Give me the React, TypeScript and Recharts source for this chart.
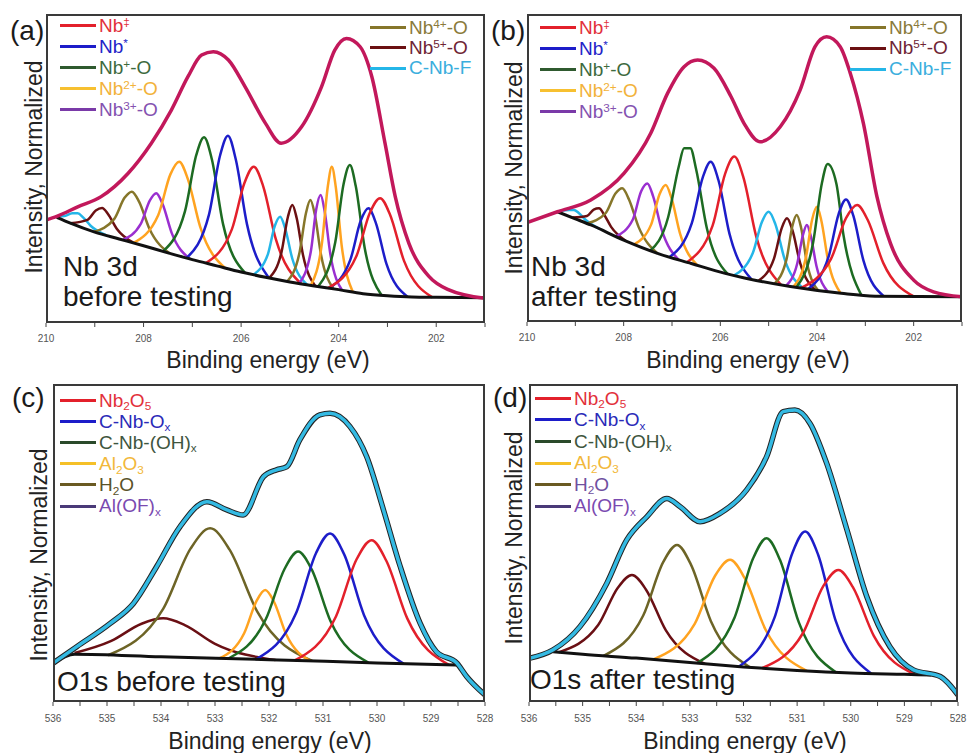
import React from "react";
import { LineChart, Line, XAxis, YAxis } from "recharts";

type Pt = [number, number];

// x = binding energy (eV), y = normalized intensity (0-100 of the frame height)

// ---------- (a) Nb 3d before testing ----------
const aEnvelope: Pt[] = [[210, 33.3], [209.78, 34.5], [209.35, 37.6], [208.87, 40.9], [208.32, 48.4], [207.84, 58.2], [207.43, 68.9], [207.09, 79.7], [206.81, 86.7], [206.57, 87.8], [206.26, 85.1], [205.92, 76.5], [205.5, 64.6], [205.18, 58.2], [204.76, 63.5], [204.35, 76.5], [204.08, 88.3], [203.84, 92.1], [203.56, 89.4], [203.32, 79.7], [203.05, 58.2], [202.84, 40.9], [202.56, 25.8], [202.15, 15.1], [201.74, 10.7], [201, 8.0]];
const aBackground: Pt[] = [[209.78, 34.2], [209.5, 32.3], [209, 29.4], [208.5, 27.2], [208, 25], [207.5, 22.7], [207, 20.5], [206.5, 18.5], [206, 16.5], [205.5, 14.8], [205, 13.3], [204.5, 12], [204, 10.8], [203.5, 9.5], [203, 8.8], [202.5, 8.4], [202, 8.3], [201, 8.2]];
const aCNbF1: Pt[] = [[209.75, 34.5], [209.62, 34.6], [209.46, 35.5], [209.35, 35.5], [209.24, 34.2], [209.08, 31.4], [208.77, 28.4]];
const aNb5p1: Pt[] = [[209.5, 32.3], [209.15, 33.4], [208.98, 36.4], [208.85, 37.2], [208.73, 35.3], [208.55, 30.5], [208.2, 25.9]];
const aNb4p1: Pt[] = [[209.02, 29.5], [208.6, 33.7], [208.39, 40.5], [208.24, 42.5], [208.09, 39.2], [207.88, 30.5], [207.46, 22.5]];
const aNb3p1: Pt[] = [[208.43, 26.9], [208.06, 32.0], [207.87, 39.7], [207.74, 42.0], [207.61, 38.5], [207.42, 29.0], [207.05, 20.7]];
const aNb2p1: Pt[] = [[208.21, 25.9], [207.7, 34.9], [207.45, 48.1], [207.27, 52.2], [207.09, 46.5], [206.84, 31.2], [206.33, 17.8]];
const aNb1p1: Pt[] = [[207.6, 23.2], [207.15, 36.2], [206.92, 54.3], [206.76, 60.1], [206.6, 53.0], [206.37, 32.0], [205.92, 16.2]];
const aNbStar1: Pt[] = [[207.12, 21.0], [206.66, 35.0], [206.43, 54.3], [206.27, 60.6], [206.11, 53.0], [205.88, 32.0], [205.43, 14.6]];
const aNbDd1: Pt[] = [[206.72, 19.4], [206.19, 30.3], [205.93, 45.4], [205.74, 50.6], [205.55, 44.4], [205.29, 27.2], [204.77, 12.7]];
const aCNbF2: Pt[] = [[205.75, 15.6], [205.45, 22.3], [205.31, 31.4], [205.2, 34.4], [205.1, 30.8], [204.95, 20.8], [204.65, 12.4]];
const aNb5p2: Pt[] = [[205.42, 14.6], [205.17, 23.1], [205.04, 34.4], [204.95, 38.2], [204.86, 33.9], [204.73, 21.9], [204.48, 12.0]];
const aNb4p2: Pt[] = [[205.05, 13.5], [204.8, 23.0], [204.67, 35.6], [204.58, 39.8], [204.49, 35.2], [204.36, 21.9], [204.11, 11.1]];
const aNb3p2: Pt[] = [[204.81, 12.8], [204.57, 23.2], [204.46, 36.8], [204.37, 41.4], [204.29, 36.4], [204.17, 22.2], [203.93, 10.6]];
const aNb2p2: Pt[] = [[204.57, 12.2], [204.34, 26.2], [204.22, 44.5], [204.14, 50.6], [204.06, 44.1], [203.94, 25.3], [203.71, 10.0]];
const aNb1p2: Pt[] = [[204.42, 11.8], [204.07, 26.1], [203.9, 44.9], [203.77, 51.1], [203.65, 44.3], [203.47, 24.6], [203.12, 9.0]];
const aNbStar2: Pt[] = [[204.19, 11.3], [203.76, 20.5], [203.55, 33.0], [203.39, 37.1], [203.24, 32.5], [203.02, 19.1], [202.59, 8.5]];
const aNbDd2: Pt[] = [[204.22, 11.3], [203.64, 21.5], [203.36, 35.7], [203.15, 40.4], [202.95, 35.2], [202.66, 20.1], [202.08, 8.3]];

// ---------- (b) Nb 3d after testing ----------
const bEnvelope: Pt[] = [[210, 32.3], [209.37, 35.8], [208.68, 39.6], [207.99, 48.3], [207.44, 61.3], [207.09, 74.3], [206.75, 82.9], [206.47, 85.1], [206.13, 82.4], [205.78, 73.2], [205.51, 64.5], [205.18, 58.5], [204.76, 63.4], [204.35, 75.3], [204.04, 89.4], [203.8, 92.6], [203.52, 89.4], [203.31, 80.7], [203.04, 64.5], [202.76, 40.7], [202.48, 25.5], [202, 13.6], [201.59, 9.8], [201, 8.2]];
const bBackground: Pt[] = [[209.37, 35.8], [209, 33.5], [208.68, 31.5], [208, 26.6], [207.3, 22.3], [206.6, 19], [205.9, 15.8], [205.5, 14.3], [204.55, 11.5], [203.5, 9.3], [202.8, 8.4], [201, 8.2]];
const bCNbF1: Pt[] = [[209.37, 35.8], [209.27, 36.2], [209.13, 36.4], [209.03, 36.4], [208.93, 35.4], [208.79, 33.2], [208.51, 30.3]];
const bNb5p1: Pt[] = [[209.06, 33.9], [208.76, 34.4], [208.62, 36.5], [208.51, 36.9], [208.41, 35.0], [208.26, 30.9], [207.96, 26.4]];
const bNb4p1: Pt[] = [[208.76, 32.0], [208.37, 35.4], [208.17, 41.7], [208.03, 43.4], [207.89, 39.8], [207.69, 30.8], [207.3, 22.3]];
const bNb3p1: Pt[] = [[208.16, 27.8], [207.81, 33.3], [207.64, 42.4], [207.51, 45.0], [207.39, 40.8], [207.21, 29.8], [206.86, 20.2]];
const bNb2p1: Pt[] = [[207.78, 25.2], [207.43, 31.7], [207.26, 41.4], [207.13, 44.5], [207.01, 40.2], [206.83, 28.5], [206.48, 18.5]];
const bNb1p1: Pt[] = [[207.46, 23.0], [207.08, 34.0], [206.86, 50.5], [206.75, 56.4], [206.62, 56.4], [206.5, 49.5], [206.28, 30.5], [205.85, 15.6]];
const bNbStar1: Pt[] = [[207.05, 21.1], [206.59, 32.1], [206.36, 47.1], [206.2, 52.0], [206.04, 46.1], [205.81, 28.6], [205.36, 13.9]];
const bNbDd1: Pt[] = [[206.69, 19.4], [206.16, 31.3], [205.9, 48.2], [205.71, 53.7], [205.52, 46.8], [205.26, 27.9], [204.74, 12.0]];
const bCNbF2: Pt[] = [[205.72, 15.1], [205.33, 22.3], [205.14, 32.5], [205.0, 35.8], [204.86, 31.7], [204.67, 20.4], [204.29, 11.0]];
const bNb5p2: Pt[] = [[205.21, 13.4], [204.89, 20.6], [204.73, 30.5], [204.62, 33.7], [204.51, 29.9], [204.35, 19.2], [204.04, 10.4]];
const bNb4p2: Pt[] = [[204.88, 12.4], [204.63, 20.4], [204.51, 31.1], [204.42, 34.7], [204.33, 30.7], [204.21, 19.3], [203.97, 10.1]];
const bNb3p2: Pt[] = [[204.64, 11.7], [204.41, 18.9], [204.29, 28.3], [204.21, 31.5], [204.13, 28.0], [204.01, 18.1], [203.78, 9.9]];
const bNb2p2: Pt[] = [[204.49, 11.4], [204.23, 20.9], [204.1, 33.3], [204.0, 37.4], [203.91, 32.9], [203.77, 19.9], [203.51, 9.3]];
const bNb1p2: Pt[] = [[204.43, 11.2], [204.08, 25.8], [203.9, 45.0], [203.78, 51.3], [203.6, 45.0], [203.45, 28.0], [203.08, 8.7]];
const bNbStar2: Pt[] = [[204.18, 10.7], [203.76, 21.2], [203.55, 35.2], [203.4, 39.8], [203.25, 34.6], [203.04, 20.0], [202.62, 8.4]];
const bNbDd2: Pt[] = [[204.34, 11.0], [203.71, 20.5], [203.4, 33.7], [203.17, 38.0], [202.95, 33.1], [202.63, 19.2], [202.0, 8.3]];

// ---------- (c) O1s before testing ----------
const cEnvelope: Pt[] = [[536, 12.2], [535.56, 17.4], [534.94, 24.7], [534.51, 31.0], [534.08, 42.6], [533.65, 55.1], [533.15, 63.0], [532.78, 60.4], [532.48, 58.8], [532.1, 70.9], [531.86, 73.0], [531.67, 74.0], [531.43, 82.4], [531.06, 90.3], [530.87, 90.8], [530.5, 86.6], [530.19, 77.1], [529.88, 60.4], [529.57, 42.6], [529.2, 24.7], [528.9, 15.8], [528.52, 12.2], [528.34, 8.0], [528, 2.2]];
const cBackground: Pt[] = [[536, 12.2], [535.6, 15.0], [534, 14.2], [532, 13.3], [530, 12.3], [528.5, 11.6]];
const cAlOF: Pt[] = [[535.6, 15.4], [534.92, 19.2], [534.36, 24.6], [533.96, 26.3], [533.56, 24.2], [533.0, 18.3], [531.88, 13.2]];
const cH2O: Pt[] = [[534.98, 14.7], [533.96, 29.3], [533.45, 48.3], [533.09, 54.6], [532.73, 47.9], [532.22, 28.5], [531.2, 12.9]];
const cAl2O3: Pt[] = [[532.92, 13.7], [532.46, 21.6], [532.23, 31.8], [532.07, 35.2], [531.91, 31.6], [531.68, 21.2], [531.23, 12.9]];
const cNbOH: Pt[] = [[532.76, 13.6], [532.06, 26.0], [531.71, 41.9], [531.46, 47.3], [531.21, 41.7], [530.86, 25.4], [530.16, 12.4]];
const cNbOx: Pt[] = [[532.24, 13.4], [531.5, 27.9], [531.13, 46.8], [530.87, 53.0], [530.61, 46.5], [530.24, 27.3], [529.51, 12.1]];
const cNb2O5: Pt[] = [[531.53, 13.0], [530.76, 26.9], [530.38, 44.8], [530.1, 50.9], [529.83, 44.5], [529.44, 26.3], [528.67, 11.7]];

// ---------- (d) O1s after testing ----------
const dEnvelope: Pt[] = [[536, 13.7], [535.55, 16.4], [535.05, 23.7], [534.55, 37.3], [534.18, 50.9], [533.8, 58.3], [533.43, 64.0], [533.18, 61.4], [532.81, 56.7], [532.44, 59.3], [531.94, 66.7], [531.57, 77.1], [531.26, 91.3], [531.04, 91.8], [530.76, 87.6], [530.45, 75.1], [530.07, 54.1], [529.7, 33.1], [529.27, 17.4], [528.83, 10.1], [528.33, 8.0], [528, 2.2]];
const dBackground: Pt[] = [[535.55, 15.8], [535, 15.0], [534, 13.8], [533, 12.4], [532, 11.0], [531, 9.9], [530, 9.1], [529, 8.7], [528.5, 8.5]];
const dAlOF: Pt[] = [[535.45, 15.6], [534.71, 24.2], [534.34, 36.0], [534.08, 39.9], [533.82, 35.4], [533.45, 22.6], [532.72, 12.0]];
const dH2O: Pt[] = [[534.61, 14.5], [533.87, 27.2], [533.5, 43.9], [533.24, 49.4], [532.98, 43.2], [532.61, 25.5], [531.88, 10.9]];
const dAl2O3: Pt[] = [[533.68, 13.4], [532.91, 24.6], [532.53, 39.7], [532.25, 44.7], [531.98, 39.0], [531.59, 22.8], [530.82, 9.8]];
const dNbOH: Pt[] = [[532.87, 12.2], [532.17, 26.4], [531.82, 45.2], [531.57, 51.5], [531.32, 44.7], [530.97, 25.1], [530.27, 9.3]];
const dNbOx: Pt[] = [[532.09, 11.1], [531.42, 26.6], [531.09, 46.8], [530.85, 53.6], [530.61, 46.4], [530.28, 25.5], [529.62, 9.0]];
const dNb2O5: Pt[] = [[531.66, 10.6], [530.89, 21.7], [530.51, 36.5], [530.23, 41.5], [529.96, 36.1], [529.57, 20.8], [528.8, 8.6]];

// axis ticks
const nbTicks = [210, 209, 208, 207, 206, 205, 204, 203, 202, 201];
const o1sTicks = [536, 535.5, 535, 534.5, 534, 533.5, 533, 532.5, 532, 531.5, 531, 530.5, 530, 529.5, 529, 528.5, 528];

// colours
const RED = "#e3202b";
const BLUE = "#1d1dc9";
const GREEN = "#1d6b22";
const ORANGE = "#ffa320";
const PURPLE = "#9a2fd0";
const OLIVE = "#86762a";
const MAROON = "#6b1012";
const CYAN = "#24b6e8";
const ENV = "#c2185b";
const BG = "#111111";

type Series = { data: Pt[]; color: string; width: number };
const pk = (data: Pt[], color: string): Series => ({ data, color, width: 2.5 });

const seriesA: Series[] = [
  pk(aCNbF1, CYAN), pk(aNb5p1, MAROON), pk(aNb4p1, OLIVE), pk(aNb3p1, PURPLE),
  pk(aNb2p1, ORANGE), pk(aNb1p1, GREEN), pk(aNbStar1, BLUE), pk(aNbDd1, RED),
  pk(aCNbF2, CYAN), pk(aNb5p2, MAROON), pk(aNb4p2, OLIVE), pk(aNb3p2, PURPLE),
  pk(aNb2p2, ORANGE), pk(aNb1p2, GREEN), pk(aNbStar2, BLUE), pk(aNbDd2, RED),
  { data: aBackground, color: BG, width: 3 },
  { data: aEnvelope, color: ENV, width: 3.5 },
];
const seriesB: Series[] = [
  pk(bCNbF1, CYAN), pk(bNb5p1, MAROON), pk(bNb4p1, OLIVE), pk(bNb3p1, PURPLE),
  pk(bNb2p1, ORANGE), pk(bNb1p1, GREEN), pk(bNbStar1, BLUE), pk(bNbDd1, RED),
  pk(bCNbF2, CYAN), pk(bNb5p2, MAROON), pk(bNb4p2, OLIVE), pk(bNb3p2, PURPLE),
  pk(bNb2p2, ORANGE), pk(bNb1p2, GREEN), pk(bNbStar2, BLUE), pk(bNbDd2, RED),
  { data: bBackground, color: BG, width: 3 },
  { data: bEnvelope, color: ENV, width: 3.5 },
];
const seriesC: Series[] = [
  pk(cAlOF, "#6a0f14"), pk(cH2O, "#6d6426"), pk(cAl2O3, ORANGE),
  pk(cNbOH, GREEN), pk(cNbOx, BLUE), pk(cNb2O5, RED),
  { data: cBackground, color: BG, width: 3 },
  { data: cEnvelope, color: "#222", width: 5.5 },
  { data: cEnvelope, color: "#34bae3", width: 3.5 },
];
const seriesD: Series[] = [
  pk(dAlOF, "#6a0f14"), pk(dH2O, "#6d6426"), pk(dAl2O3, ORANGE),
  pk(dNbOH, GREEN), pk(dNbOx, BLUE), pk(dNb2O5, RED),
  { data: dBackground, color: BG, width: 3 },
  { data: dEnvelope, color: "#222", width: 5.5 },
  { data: dEnvelope, color: "#34bae3", width: 3.5 },
];

const FONT = "'Liberation Sans', Arial, sans-serif";

const Sup = ({ children }: { children: React.ReactNode }) => (
  <span style={{ fontSize: "0.62em", position: "relative", top: "-0.5em", lineHeight: 0 }}>{children}</span>
);
const Sub = ({ children }: { children: React.ReactNode }) => (
  <span style={{ fontSize: "0.62em", position: "relative", top: "0.3em", lineHeight: 0 }}>{children}</span>
);

type Box = { x: number; y: number; w: number; h: number };
const boxA: Box = { x: 46, y: 14, w: 439, h: 309 };
const boxB: Box = { x: 527, y: 14, w: 435, h: 308 };
const boxC: Box = { x: 53, y: 384, w: 432, h: 318 };
const boxD: Box = { x: 529, y: 384, w: 429, h: 318 };

function Panel({ box, domain, ticks, fmt, tickMargin, series }: {
  box: Box; domain: [number, number]; ticks: number[]; fmt: (v: number) => string; tickMargin: number; series: Series[];
}) {
  const pad = 24;
  return (
    <>
      <div style={{ position: "absolute", left: box.x - pad, top: box.y }}>
        <LineChart width={box.w + pad * 2} height={box.h + 40} margin={{ top: 0, right: pad, bottom: 0, left: pad }}>
          <XAxis
            type="number"
            dataKey="x"
            domain={domain}
            reversed
            allowDataOverflow
            ticks={ticks}
            interval={0}
            tickFormatter={fmt}
            height={40}
            axisLine={false}
            tickLine={{ stroke: "#444" }}
            tickSize={4}
            tickMargin={tickMargin}
            tick={{ fontSize: 10, fill: "#555", fontFamily: FONT }}
          />
          <YAxis type="number" hide domain={[0, 100]} allowDataOverflow />
          {series.map((s, i) => (
            <Line
              key={i}
              data={s.data.map(([x, y]) => ({ x, y }))}
              dataKey="y"
              type="monotone"
              stroke={s.color}
              strokeWidth={s.width}
              dot={false}
              activeDot={false}
              isAnimationActive={false}
            />
          ))}
        </LineChart>
      </div>
      <div style={{ position: "absolute", left: box.x, top: box.y, width: box.w, height: box.h, border: "2px solid #3a3a3a", boxSizing: "border-box" }} />
    </>
  );
}

type Row = { line: string; text: string; label: React.ReactNode };
function Legend({ x, y, rowH, rows }: { x: number; y: number; rowH: number; rows: Row[] }) {
  return (
    <div style={{ position: "absolute", left: x, top: y }}>
      {rows.map((r, i) => (
        <div key={i} style={{ display: "flex", alignItems: "center", height: rowH }}>
          <div style={{ width: 36, height: 3, background: r.line }} />
          <span style={{ marginLeft: 3, color: r.text, fontSize: 19, lineHeight: rowH + "px", whiteSpace: "nowrap" }}>{r.label}</span>
        </div>
      ))}
    </div>
  );
}

const nbLeftRows: Row[] = [
  { line: RED, text: "#e2303a", label: <>Nb<Sup>‡</Sup></> },
  { line: BLUE, text: "#2323c8", label: <>Nb<Sup>*</Sup></> },
  { line: "#2f5a2f", text: "#3d6a3d", label: <>Nb<Sup>+</Sup>-O</> },
  { line: "#f7c030", text: "#f2b23a", label: <>Nb<Sup>2+</Sup>-O</> },
  { line: "#7a3aa8", text: "#8452b0", label: <>Nb<Sup>3+</Sup>-O</> },
];
const nbRightRows: Row[] = [
  { line: OLIVE, text: "#8a7a3a", label: <>Nb<Sup>4+</Sup>-O</> },
  { line: MAROON, text: "#6e2434", label: <>Nb<Sup>5+</Sup>-O</> },
  { line: CYAN, text: "#3aaedd", label: <>C-Nb-F</> },
];
const o1sRows = (h2oText: string): Row[] => [
  { line: RED, text: "#e2303a", label: <>Nb<Sub>2</Sub>O<Sub>5</Sub></> },
  { line: BLUE, text: "#2a2ab8", label: <>C-Nb-O<Sub>x</Sub></> },
  { line: "#2a4a2a", text: "#3e553e", label: <>C-Nb-(OH)<Sub>x</Sub></> },
  { line: "#f5c028", text: "#f2b83a", label: <>Al<Sub>2</Sub>O<Sub>3</Sub></> },
  { line: "#6a5a22", text: h2oText, label: <>H<Sub>2</Sub>O</> },
  { line: "#4a3a78", text: "#7a4ab0", label: <>Al(OF)<Sub>x</Sub></> },
];

const txt = (left: number, top: number, size: number, content: React.ReactNode, extra: React.CSSProperties = {}) => (
  <div style={{ position: "absolute", left, top, fontSize: size, lineHeight: 1, whiteSpace: "nowrap", color: "#1a1a1a", ...extra }}>{content}</div>
);
const xTitle = (cx: number, top: number) =>
  txt(cx - 150, top, 23, "Binding energy (eV)", { width: 300, textAlign: "center", color: "#222" });
const yTitle = (cx: number, cy: number) => (
  <div style={{ position: "absolute", left: cx, top: cy, fontSize: 23, lineHeight: 1, whiteSpace: "nowrap", color: "#222", transform: "translate(-50%, -50%) rotate(-90deg)" }}>
    Intensity, Normalized
  </div>
);

const evenLabel = (v: number) => (v % 2 === 0 ? String(v) : "");
const intLabel = (v: number) => (Number.isInteger(v) ? String(v) : "");

export default function App() {
  return (
    <div style={{ position: "absolute", left: 0, top: 0, width: 968, height: 753, background: "#fff", fontFamily: FONT, overflow: "hidden" }}>
      <Panel box={boxA} domain={[201, 210]} ticks={nbTicks} fmt={evenLabel} tickMargin={8} series={seriesA} />
      <Panel box={boxB} domain={[201, 210]} ticks={nbTicks} fmt={evenLabel} tickMargin={8} series={seriesB} />
      <Panel box={boxC} domain={[528, 536]} ticks={o1sTicks} fmt={intLabel} tickMargin={9} series={seriesC} />
      <Panel box={boxD} domain={[528, 536]} ticks={o1sTicks} fmt={intLabel} tickMargin={9} series={seriesD} />

      <Legend x={60} y={14.5} rowH={21.2} rows={nbLeftRows} />
      <Legend x={370} y={17.5} rowH={20.3} rows={nbRightRows} />
      <Legend x={540} y={16.5} rowH={21.2} rows={nbLeftRows} />
      <Legend x={850} y={17.5} rowH={20.8} rows={nbRightRows} />
      <Legend x={60} y={389.5} rowH={21.2} rows={o1sRows("#5a5228")} />
      <Legend x={535} y={387.5} rowH={21.6} rows={o1sRows("#7050a0")} />

      {txt(10, 17, 28, "(a)")}
      {txt(491, 17, 28, "(b)")}
      {txt(12, 384, 28, "(c)")}
      {txt(493, 384, 28, "(d)")}

      {txt(63, 253, 28, "Nb 3d")}
      {txt(63, 283, 28, "before testing")}
      {txt(531, 253, 28, "Nb 3d")}
      {txt(531, 283, 28, "after testing")}
      {txt(57, 668, 28, "O1s before testing")}
      {txt(530, 666, 28, "O1s after testing")}

      {xTitle(268, 349)}
      {xTitle(748, 349)}
      {xTitle(270, 730)}
      {xTitle(745, 730)}

      {yTitle(34, 167)}
      {yTitle(514, 168)}
      {yTitle(39, 555)}
      {yTitle(514, 538)}
    </div>
  );
}
